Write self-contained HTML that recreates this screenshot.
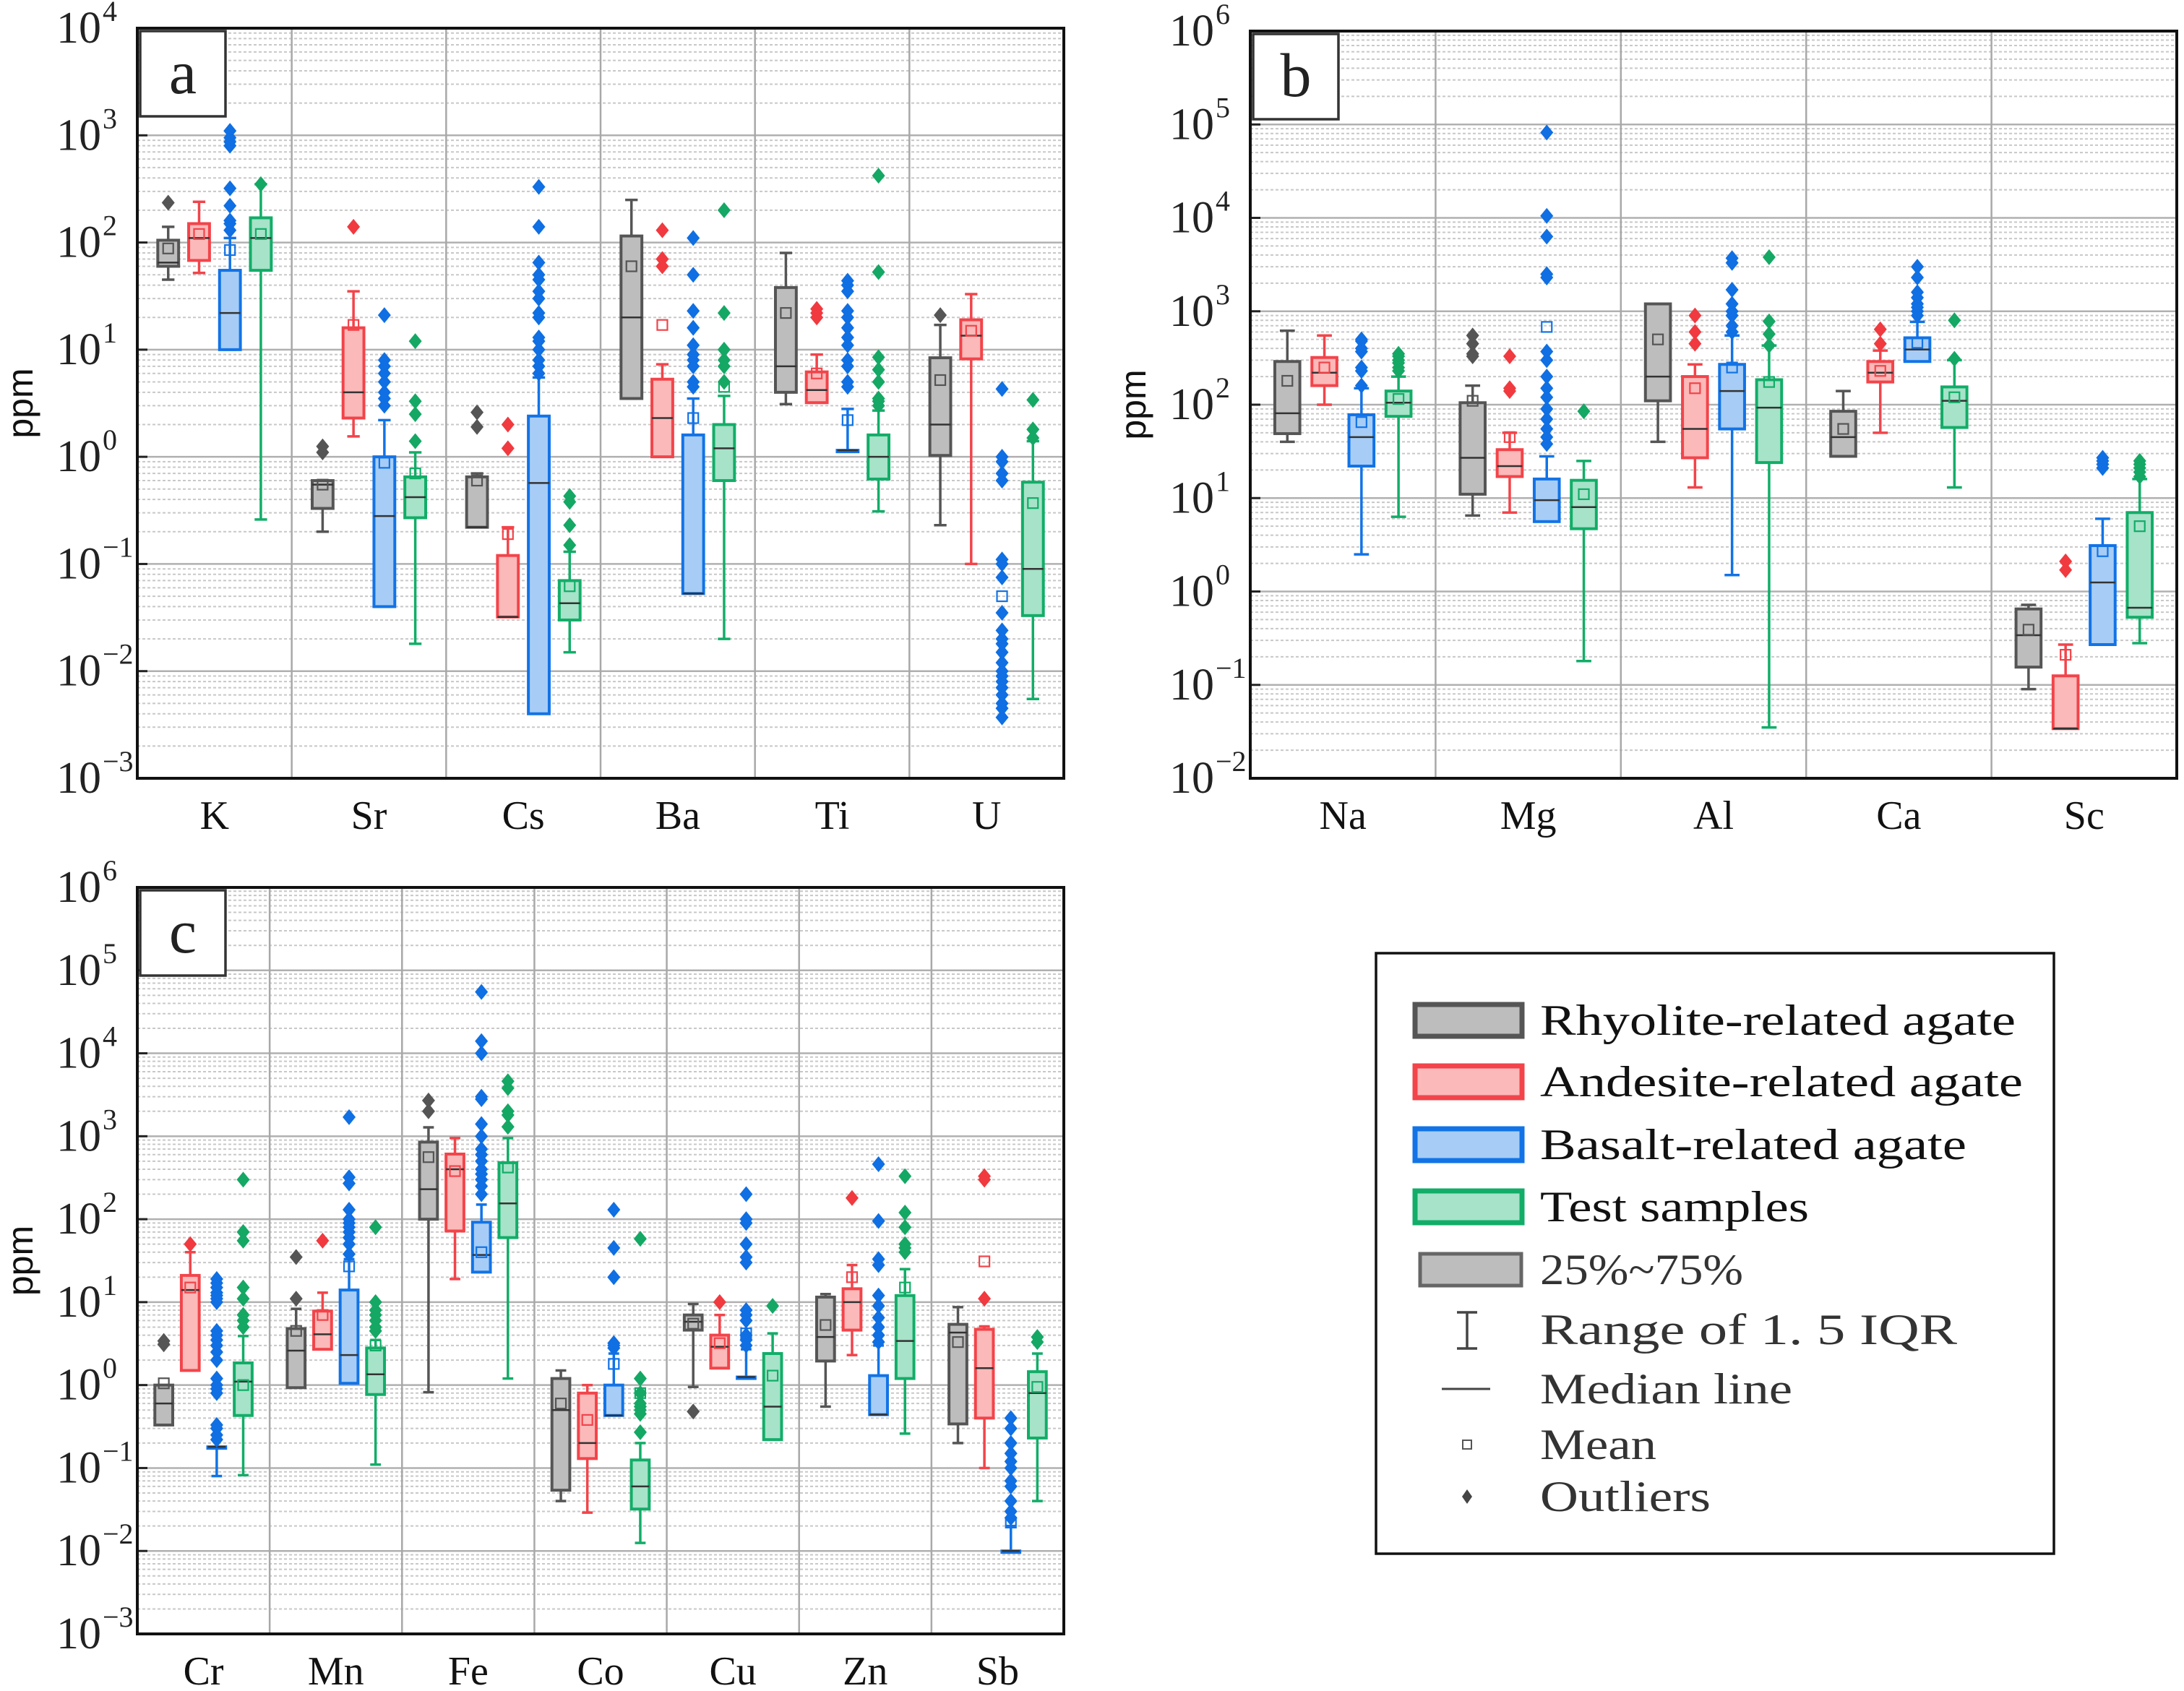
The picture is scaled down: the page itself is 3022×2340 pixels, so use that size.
<!DOCTYPE html>
<html><head><meta charset="utf-8">
<style>
html,body{margin:0;padding:0;background:#fff;}
svg{display:block;font-family:"Liberation Serif","DejaVu Serif",serif;}
</style></head>
<body>
<svg id="chart" width="3022" height="2340" viewBox="0 0 3022 2340" xmlns="http://www.w3.org/2000/svg"></svg>
<script>
// ---- data: per element, per group [q1, median, q3, whiskerLow, whiskerHigh, mean], outliers separate ----
const groups = ['rhyolite','andesite','basalt','test'];
const catsA = ['K','Sr','Cs','Ba','Ti','U'];
const catsB = ['Na','Mg','Al','Ca','Sc'];
const catsC = ['Cr','Mn','Fe','Co','Cu','Zn','Sb'];

const boxesA = [
 [[60,65,105,45,140,88],[68,110,150,52,240,120],[10,22,55,10,110,85],[55,110,170,0.26,350,120]],
 [[0.33,0.55,0.6,0.2,0.6,0.55],[2.3,4,16,1.55,35,17],[0.04,0.28,1.0,0.04,2.2,0.88],[0.27,0.42,0.65,0.018,1.1,0.7]],
 [[0.22,0.22,0.65,0.22,0.7,0.6],[0.032,0.032,0.12,0.032,0.22,0.19],[0.004,0.57,2.4,0.004,5.5,null],[0.03,0.043,0.07,0.015,0.13,0.062]],
 [[3.5,20,115,3.5,250,60],[1.0,2.3,5.3,1.0,7.3,17],[0.053,0.053,1.6,0.053,3.5,2.3],[0.6,1.2,2.0,0.02,3.7,4.5]],
 [[4,7,38,3.1,80,22],[3.2,4.2,6.2,3.2,9,6],[1.15,1.15,1.15,1.15,2.8,2.2],[0.62,1.0,1.6,0.31,2.7,null]],
 [[1.03,2.0,8.4,0.23,17,5.2],[8.2,13.5,19,0.1,33,15],[null,null,null,null,null,0.05],[0.033,0.09,0.58,0.0055,1.4,0.37]]
];
const outA = [
 [[235],[],[130,150,160,220,320,800,870,950,1100],[350]],
 [[1.1,1.25],[140],[3,3.5,4,5,6,7,8,21],[1.4,2.5,3.3,12]],
 [[1.9,2.6],[1.2,2.0],[6,7,8,10,12,13,20,22,30,35,45,50,65,140,330],[0.15,0.23,0.38,0.43]],
 [[],[60,70,130],[4.5,5,7,8,9,11,16,23,50,110],[5,7,8,10,22,200]],
 [[],[20,22,24],[4.5,5,7,8,11,13,16,20,23,35,40,44],[3,3.3,3.5,5,6.5,8.5,53,420]],
 [[21],[],[0.0037,0.0045,0.005,0.006,0.007,0.008,0.009,0.01,0.012,0.015,0.018,0.02,0.024,0.035,0.075,0.1,0.11,0.6,0.7,0.9,1.0,4.3],[1.5,1.8,3.4]]
];
const boxesB = [
 [[49,81,290,40,620,180],[160,220,320,100,550,250],[22,45,78,2.5,150,65],[75,105,140,6.3,200,115]],
 [[11,27,105,6.5,160,110],[17,22,33,7,50,45],[5.6,9.5,16,5.6,28,680],[4.7,8,15.5,0.18,25,11]],
 [[110,200,1200,40,1200,500],[27,55,200,13,270,150],[55,140,270,1.5,550,250],[24,93,185,0.035,430,175]],
 [[28,45,85,28,140,55],[175,220,290,50,380,230],[290,390,520,290,770,460],[57,110,155,13,300,120]],
 [[0.155,0.34,0.65,0.09,0.72,0.39],[0.034,0.034,0.125,0.034,0.27,0.21],[0.27,1.25,3.1,0.27,6,2.7],[0.53,0.67,7,0.28,16,5]]
];
const outB = [
 [[],[],[160,230,250,370,400,480,500],[230,250,280,300,330,350]],
 [[330,350,450,550],[140,150,330],[38,45,55,70,90,120,150,200,300,370,2300,2500,6300,10500,82000],[85]],
 [[],[450,600,900],[600,700,900,1000,1200,1700,3300,3700],[430,570,780,3800]],
 [[],[450,640],[900,1000,1100,1200,1400,1600,2300,3000],[310,800]],
 [[],[1.7,2.1],[21,23,25,27],[17,19,21,23,25]]
];
const boxesC = [
 [[0.33,0.6,1.0,0.33,1.0,1.05],[1.5,14,21,1.5,40,15],[0.18,0.18,0.18,0.08,0.18,null],[0.43,1.1,1.85,0.082,3.9,1.0]],
 [[0.93,2.6,4.8,0.93,8.3,4.5],[2.7,4.1,7.8,2.7,13,7],[1.05,2.3,14,1.05,33,27],[0.77,1.35,2.8,0.11,3.5,3]],
 [[100,230,850,0.82,1280,560],[72,400,610,19,950,380],[23,37,92,23,150,40],[60,155,480,1.2,950,420]],
 [[0.054,0.5,1.2,0.04,1.5,0.6],[0.13,0.2,0.8,0.029,1.0,0.38],[0.43,0.43,1.0,0.43,2.4,1.8],[0.032,0.06,0.125,0.0125,0.2,0.8]],
 [[4.6,5.8,7,0.95,9.5,5.5],[1.6,2.9,4,1.6,7,3.2],[1.25,1.25,1.25,1.25,2.7,4.2],[0.22,0.55,2.4,0.22,4.2,1.3]],
 [[1.95,3.8,11.5,0.55,12.5,5.3],[4.6,10,14.5,2.3,28,20],[0.44,0.44,1.3,0.44,3,null],[1.2,3.4,12,0.26,25,15]],
 [[0.34,4.3,5.4,0.2,8.7,3.3],[0.4,1.6,4.7,0.1,5.1,31],[0.01,0.01,0.01,0.01,0.02,0.022],[0.23,0.8,1.45,0.04,2.4,0.95]]
];
const outC = [
 [[3.1,3.4],[50],[0.22,0.25,0.3,0.33,0.8,0.9,1,1.2,2,2.5,3,3.5,4,4.5,10,11,12,13,15,17,19],[5,6,7,11,15,55,70,300]],
 [[11,35],[55],[38,50,60,70,80,90,100,130,270,320,1700],[4.5,5,6,7,8,10,80]],
 [[2000,2700],[],[200,250,300,350,400,500,600,700,1000,1400,2800,3000,10000,14000,55000],[1300,1800,2000,3800,4600]],
 [[],[],[2.8,3,3.2,20,45,130],[0.27,0.45,0.5,0.55,0.6,0.8,1.2,58]],
 [[0.48],[10],[3,3.5,4,6,7,8,30,35,50,90,100,200],[9]],
 [[],[180],[3.3,4,5,6.5,9,12,28,33,95,460],[40,45,50,80,120,330]],
 [[],[11,300,330],[0.025,0.03,0.04,0.06,0.07,0.1,0.12,0.15,0.2,0.3,0.4],[3.3,3.8]]
];
const legendLabels = ['Rhyolite-related agate','Andesite-related agate','Basalt-related agate','Test samples'];

const NS='http://www.w3.org/2000/svg';
const svg=document.getElementById('chart');
const fills=['#bdbdbd','#fbb9b9','#a7cdf6','#a6e3c8'];
const strokes=['#555555','#f2444a','#1273e6','#12ad68'];
const dots=['#555555','#f03a3f','#0f6fe3','#14a864'];
function el(tag,attrs,parent){const e=document.createElementNS(NS,tag);for(const k in attrs)e.setAttribute(k,attrs[k]);(parent||svg).appendChild(e);return e;}

function panel(name,letter,x0,x1,yT,yB,eHi,eLo,cats,boxes,outs){
  const g=el('g',{});
  
  
  const ys=v=>yT+(eHi-Math.log10(v))/(eHi-eLo)*(yB-yT);
  const cw=(x1-x0)/cats.length;
  const bw=cw*0.135;
  for(let e=eLo;e<eHi;e++){for(let m=2;m<=9;m++){const y=ys(m*Math.pow(10,e));
    const l=el('line',{x1:x0,x2:x1,y1:y,y2:y,stroke:'#c8c8c8','stroke-width':2,'stroke-dasharray':'4 3'},g);
    }}
  for(let e=eLo+1;e<eHi;e++){const y=ys(Math.pow(10,e));
    const l=el('line',{x1:x0,x2:x1,y1:y,y2:y,stroke:'#b0b0b0','stroke-width':2.5},g);
    }
  for(let i=1;i<cats.length;i++){const x=x0+i*cw;
    const l=el('line',{x1:x,x2:x,y1:yT,y2:yB,stroke:'#a8a8a8','stroke-width':2.5},g);
    }
  for(let e=eLo;e<=eHi;e++){const y=ys(Math.pow(10,e));
    el('line',{x1:x0,x2:x0+14,y1:y,y2:y,stroke:'#222','stroke-width':3},g);
    const t=el('text',{x:x0-50,y:y+20,'text-anchor':'end','font-size':62,fill:'#222'},g);
    
    t.textContent='10';
    const s=el('text',{x:x0-48,y:y-10,'text-anchor':'start','font-size':40,fill:'#222'},g);
    
    s.textContent=(e<0?'\u2212'+(-e):''+e);
  }
  const yt=el('text',{x:0,y:0,transform:'translate('+(x0-145)+','+((yT+yB)/2)+') rotate(-90)','text-anchor':'middle','font-size':50,fill:'#111','font-family':'"Liberation Sans",sans-serif'},g);
  
  yt.textContent='ppm';
  cats.forEach((c,i)=>{const t=el('text',{x:x0+(i+0.5)*cw,y:yB+70,'text-anchor':'middle','font-size':56,fill:'#111'},g);
    t.textContent=c;});
  cats.forEach((c,i)=>{
    groups.forEach((gr,j)=>{
      const cx=x0+cw*(i+0.2+0.2*j);
      const b=boxes[i][j];const [q1,md,q3,wl,wh,mn]=b;
      const gg=el('g',{},g);
      
      if(q1!=null){
        el('line',{x1:cx,x2:cx,y1:ys(wh),y2:ys(q3),stroke:strokes[j],'stroke-width':3.5},gg);
        el('line',{x1:cx,x2:cx,y1:ys(q1),y2:ys(wl),stroke:strokes[j],'stroke-width':3.5},gg);
        el('line',{x1:cx-bw*0.3,x2:cx+bw*0.3,y1:ys(wh),y2:ys(wh),stroke:strokes[j],'stroke-width':3.5},gg);
        el('line',{x1:cx-bw*0.3,x2:cx+bw*0.3,y1:ys(wl),y2:ys(wl),stroke:strokes[j],'stroke-width':3.5},gg);
        const h=Math.max(ys(q1)-ys(q3),2);
        el('rect',{x:cx-bw/2,y:ys(q3),width:bw,height:h,fill:fills[j],stroke:strokes[j],'stroke-width':4},gg);
        el('line',{x1:cx-bw/2,x2:cx+bw/2,y1:ys(md),y2:ys(md),stroke:'#333','stroke-width':2.5},gg);
      }
      if(mn!=null){el('rect',{x:cx-7,y:ys(mn)-7,width:14,height:14,fill:'none',stroke:strokes[j],'stroke-width':2.2},gg);}
      outs[i][j].forEach(v=>{const y=ys(v);
        const d=el('path',{d:'M'+cx+' '+(y-11)+' L'+(cx+9)+' '+y+' L'+cx+' '+(y+11)+' L'+(cx-9)+' '+y+'Z',fill:dots[j]},gg);
        });
    });
  });
  const fr=el('rect',{x:x0,y:yT,width:x1-x0,height:yB-yT,fill:'none',stroke:'#111','stroke-width':4},g);
  
  const lb=el('rect',{x:x0+4,y:yT+4,width:118,height:118,fill:'#fff',stroke:'#333','stroke-width':3.5},g);
  
  const lt=el('text',{x:x0+63,y:yT+90,'text-anchor':'middle','font-size':86,fill:'#222'},g);
  lt.textContent=letter;
}
panel('a','a',190,1472,39,1077,4,-3,catsA,boxesA,outA);
panel('b','b',1730,3012,43,1077,6,-2,catsB,boxesB,outB);
panel('c','c',190,1472,1228,2261,6,-3,catsC,boxesC,outC);

const lg=el('g',{});


el('rect',{x:1904,y:1319,width:938,height:831,fill:'#fff',stroke:'#111','stroke-width':3.5},lg);
const rowsY=[1412,1497,1584,1670];
const widths=[658,668,590,372];
legendLabels.forEach((lab,j)=>{
  const e=el('g',{},lg);
  
  
  el('rect',{x:1958,y:rowsY[j]-22,width:148,height:44,fill:fills[j],stroke:strokes[j],'stroke-width':7},e);
  const t=el('text',{x:2131,y:rowsY[j]+20,'font-size':60,fill:'#111',textLength:widths[j],lengthAdjust:'spacingAndGlyphs'},e);
  t.textContent=lab;
});
const extra=[['legend-iqr-box','25%~75%',1757,281],['legend-whisker','Range of 1. 5 IQR',1840,577],['legend-median','Median line',1922,349],['legend-mean','Mean',1999,161],['legend-outlier','Outliers',2071,236]];
extra.forEach(([nm,lab,y,w])=>{
  const e=el('g',{},lg);
  
  
  const t=el('text',{x:2131,y:y+20,'font-size':60,fill:'#333',textLength:w,lengthAdjust:'spacingAndGlyphs'},e);
  t.textContent=lab;
});
el('rect',{x:1965,y:1735,width:140,height:44,fill:'#bdbdbd',stroke:'#666','stroke-width':5},lg);
el('line',{x1:2030,x2:2030,y1:1816,y2:1866,stroke:'#444','stroke-width':3.5},lg);
el('line',{x1:2016,x2:2044,y1:1816,y2:1816,stroke:'#444','stroke-width':3.5},lg);
el('line',{x1:2016,x2:2044,y1:1866,y2:1866,stroke:'#444','stroke-width':3.5},lg);
el('line',{x1:1995,x2:2062,y1:1922,y2:1922,stroke:'#444','stroke-width':3},lg);
el('rect',{x:2024,y:1993,width:12,height:12,fill:'none',stroke:'#555','stroke-width':2},lg);
el('path',{d:'M2030 2061 L2037 2071 L2030 2081 L2023 2071Z',fill:'#444'},lg);
</script>
</body></html>
